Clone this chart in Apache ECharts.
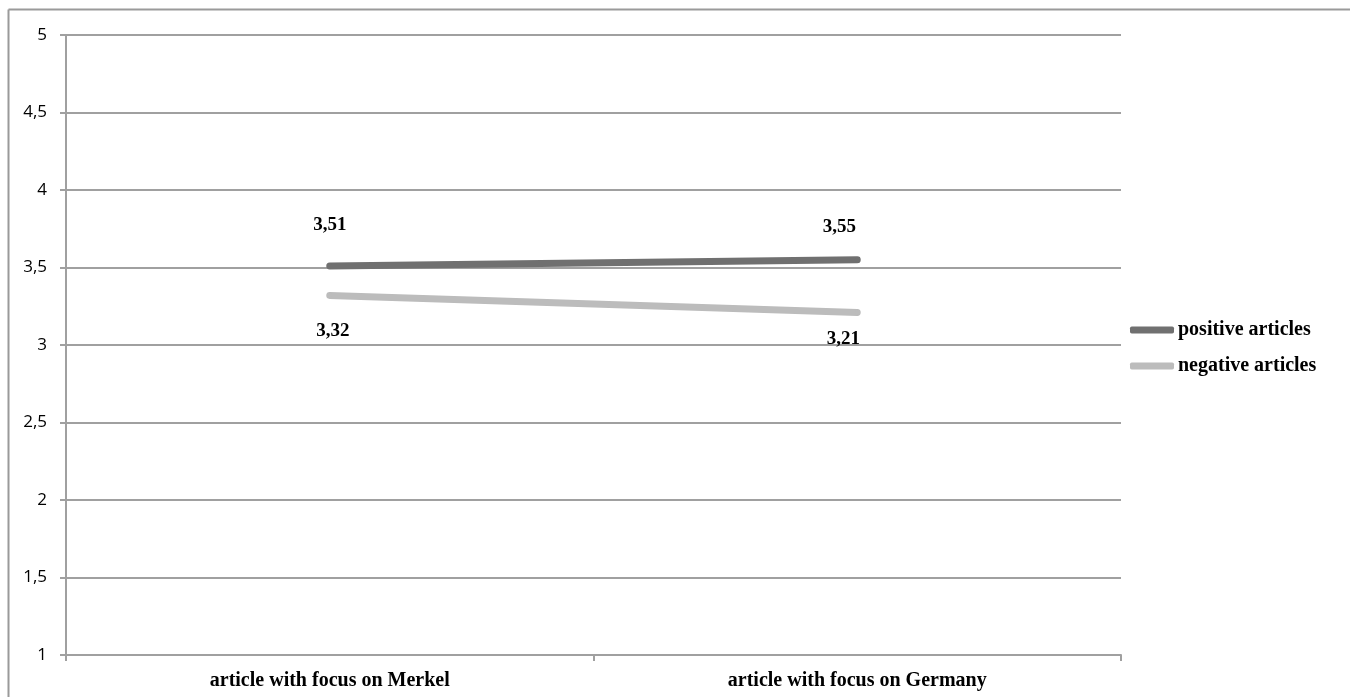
<!DOCTYPE html>
<html>
<head>
<meta charset="utf-8">
<script src="https://cdn.jsdelivr.net/npm/echarts@6/dist/echarts.min.js"></script>
<style>
html,body{margin:0;padding:0;background:#fff;}
#chart{width:1350px;height:697px;}
</style>
</head>
<body>
<div id="chart"></div>
<script>
const categories = ['article with focus on Merkel', 'article with focus on Germany'];
const positiveValues = [3.51, 3.55];
const negativeValues = [3.32, 3.21];
const seriesNames = ['positive articles', 'negative articles'];
const yTicks = { min: 1, max: 5, interval: 0.5 };

const fmt = v => String(v).replace('.', ',');
const serif = '"Liberation Serif", "Times New Roman", serif';
const labelFont = { fontFamily: serif, fontWeight: 'bold', fontSize: 19, color: '#000' };
const posOffsets = [[0, -41], [-18, -33]];
const negOffsets = [[3, 36], [-14, 27]];

const chart = echarts.init(document.getElementById('chart'));
chart.setOption({
  animation: false,
  backgroundColor: '#fff',
  grid: { left: 66, top: 35, right: 229, bottom: 42 },
  graphic: [
    { type: 'line', shape: { x1: 8.5, y1: 9.5, x2: 1350, y2: 9.5 }, style: { stroke: '#9a9a9a', lineWidth: 2 } },
    { type: 'line', shape: { x1: 8.5, y1: 9.5, x2: 8.5, y2: 697 }, style: { stroke: '#9a9a9a', lineWidth: 2 } }
  ],
  legend: {
    orient: 'vertical',
    left: 1125,
    top: 315,
    itemWidth: 44,
    itemHeight: 7,
    itemGap: 16,
    icon: 'roundRect',
    textStyle: { fontFamily: serif, fontWeight: 'bold', fontSize: 20, color: '#000', padding: [0, 0, 0, -1] },
    data: seriesNames
  },
  xAxis: {
    type: 'category',
    data: categories,
    boundaryGap: true,
    axisLine: { lineStyle: { color: '#a0a0a0', width: 2 } },
    axisTick: { show: true, length: 6, alignWithLabel: false, lineStyle: { color: '#a0a0a0', width: 2 } },
    axisLabel: { fontFamily: serif, fontWeight: 'bold', fontSize: 20, color: '#000', margin: 16 }
  },
  yAxis: {
    type: 'value',
    min: yTicks.min,
    max: yTicks.max,
    interval: yTicks.interval,
    axisLine: { show: true, lineStyle: { color: '#a0a0a0', width: 2 } },
    axisTick: { show: true, length: 6, lineStyle: { color: '#a0a0a0', width: 2 } },
    splitLine: { show: true, lineStyle: { color: '#a0a0a0', width: 2 } },
    axisLabel: { formatter: v => fmt(v), fontFamily: '"Open Sans", "Noto Sans", sans-serif', fontSize: 17, color: '#000', margin: 19 }
  },
  series: [
    {
      name: seriesNames[0],
      type: 'line',
      color: '#707070',
      symbol: 'circle',
      symbolSize: 5,
      lineStyle: { width: 7, cap: 'round', color: '#707070' },
      data: positiveValues.map((v, i) => ({ value: v, label: { offset: posOffsets[i] } })),
      label: { show: true, position: 'inside', formatter: p => fmt(p.value), ...labelFont },
      z: 3
    },
    {
      name: seriesNames[1],
      type: 'line',
      color: '#bcbcbc',
      symbol: 'circle',
      symbolSize: 5,
      lineStyle: { width: 7, cap: 'round', color: '#bcbcbc' },
      data: negativeValues.map((v, i) => ({ value: v, label: { offset: negOffsets[i] } })),
      label: { show: true, position: 'inside', formatter: p => fmt(p.value), ...labelFont },
      z: 3
    }
  ]
});
</script>
</body>
</html>
